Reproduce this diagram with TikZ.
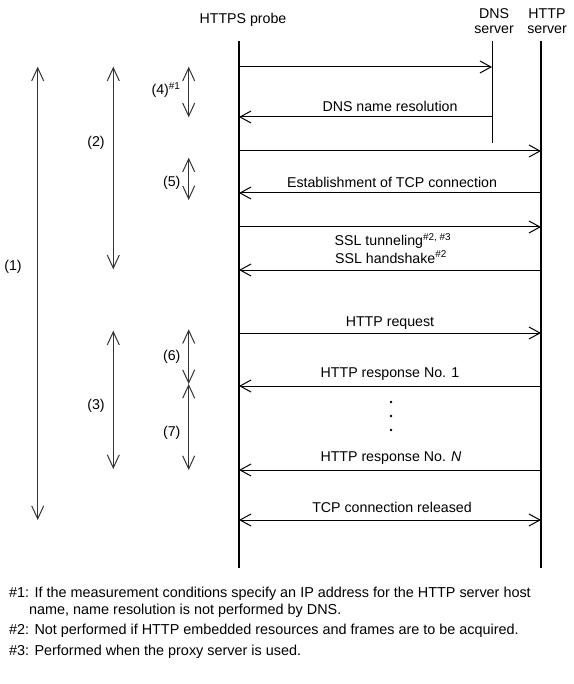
\documentclass[tikz,border=0pt]{standalone}
\usepackage{fontspec}
\setmainfont{Liberation Sans}
\usepackage{tikz}
\usetikzlibrary{arrows.meta,positioning,calc}
\tikzset{
  lifeline/.style={draw=black, line width=2pt},
  dnsline/.style={draw=black, line width=1pt},
  msgarrow/.style={-{Straight Barb[length=11pt,width=12pt]}, draw=black, line width=1pt},
  spanarrow/.style={{Straight Barb[length=13pt,width=12pt]}-{Straight Barb[length=13pt,width=12pt]},
    draw=black!80, line width=1pt},
  msglabel/.style={font=\fontsize{14.2}{15}\selectfont, inner sep=0pt, align=center},
  notetext/.style={font=\fontsize{14.4}{16}\selectfont, inner sep=0pt, anchor=west},
}

\begin{document}
\begin{tikzpicture}[x=1pt, y=-1pt]
  \useasboundingbox (0,0) rectangle (573,684);

  % ============ Lifelines ============
  \coordinate (probe)     at (239, 41);
  \coordinate (probe end) at (239,568);
  \coordinate (dns)       at (492, 41);
  \coordinate (dns end)   at (492,143);
  \coordinate (http)      at (541, 41);
  \coordinate (http end)  at (541,568);

  \node[msglabel] (probelbl) at (243,20) {HTTPS probe};
  \node[msglabel] (dnslbl)   at (494,21) {DNS\\server};
  \node[msglabel] (httplbl)  at (547,21) {HTTP\\server};

  \draw[lifeline] (probe) -- (probe end);
  \draw[dnsline]  (dns)   -- (dns end);
  \draw[lifeline] (http)  -- (http end);

  % ============ Message rows ============
  \coordinate (r1)  at (0, 67);
  \coordinate (r2)  at (0,117);
  \coordinate (r3)  at (0,151);
  \coordinate (r4)  at (0,193);
  \coordinate (r5)  at (0,227);
  \coordinate (r6)  at (0,270);
  \coordinate (r7)  at (0,333);
  \coordinate (r8)  at (0,386);
  \coordinate (r9)  at (0,470);
  \coordinate (r10) at (0,520);

  \draw[msgarrow] (probe |- r1) -- (dns |- r1);
  \draw[msgarrow] (dns |- r2)   -- (probe |- r2);
  \draw[msgarrow] (probe |- r3) -- (http |- r3);
  \draw[msgarrow] (http |- r4)  -- (probe |- r4);
  \draw[msgarrow] (probe |- r5) -- (http |- r5);
  \draw[msgarrow] (http |- r6)  -- (probe |- r6);
  \draw[msgarrow] (probe |- r7) -- (http |- r7);
  \draw[msgarrow] (http |- r8)  -- (probe |- r8);
  \draw[msgarrow] (http |- r9)  -- (probe |- r9);
  \draw[msgarrow, {Straight Barb[length=11pt,width=12pt]}-{Straight Barb[length=11pt,width=12pt]}]
    (probe |- r10) -- (http |- r10);

  % message labels
  \node[msglabel] (dnsres)  at (390,106) {DNS name resolution};
  \node[msglabel] (tcpest)  at (392,182) {Establishment of TCP connection};
  \node[msglabel] (ssltun)  at (393,241) {SSL tunneling\textsuperscript{\#2, \#3}};
  \node[msglabel] (sslhs)   at (391,257) {SSL handshake\textsuperscript{\#2}};
  \node[msglabel] (httpreq) at (390,323) {HTTP request};
  \node[msglabel] (resp1)   at (390,374) {HTTP response No. 1};
  \node[msglabel] (respN)   at (391,458) {HTTP response No. \textit{N}};
  \node[msglabel] (tcprel)  at (392,507) {TCP connection released};

  \foreach \y in {402,416,430}
    \fill (391,\y) circle (1.3);

  % ============ Measured spans ============
  \coordinate (s1top) at (37.7, 66.7);   \coordinate (s1bot) at (37.7,520);
  \coordinate (s2top) at (113.3,66.7);   \coordinate (s2bot) at (113.3,269.3);
  \coordinate (s3top) at (113.3,330.7);  \coordinate (s3bot) at (113.3,469);
  \coordinate (s4top) at (188.7,66.7);   \coordinate (s4bot) at (188.7,117.3);
  \coordinate (s5top) at (188.7,157.7);  \coordinate (s5bot) at (188.7,200);
  \coordinate (s6top) at (188.7,329.3);  \coordinate (s6bot) at (188.7,384);
  \coordinate (s7top) at (188.7,384);    \coordinate (s7bot) at (188.7,470);

  \draw[spanarrow] (s1top) -- (s1bot);
  \draw[spanarrow] (s2top) -- (s2bot);
  \draw[spanarrow] (s3top) -- (s3bot);
  \draw[spanarrow] (s4top) -- (s4bot);
  \draw[spanarrow] (s5top) -- (s5bot);
  \draw[spanarrow] (s6top) -- (s6bot);
  \draw[spanarrow] (s7top) -- (s7bot);

  \node[msglabel] (lbl1) at (13,267)   {(1)};
  \node[msglabel] (lbl2) at (96,143)   {(2)};
  \node[msglabel] (lbl3) at (96,406)   {(3)};
  \node[msglabel] (lbl4) at (166,90)   {(4)\textsuperscript{\#1}};
  \node[msglabel] (lbl5) at (171.7,183) {(5)};
  \node[msglabel] (lbl6) at (171.7,357) {(6)};
  \node[msglabel] (lbl7) at (171.7,433) {(7)};

  % ============ Notes ============
  \node[notetext] (note1)  at (9,594)  {\#1: If the measurement conditions specify an IP address for the HTTP server host};
  \node[notetext] (note1b) at (29,611) {name, name resolution is not performed by DNS.};
  \node[notetext] (note2)  at (9,631)  {\#2: Not performed if HTTP embedded resources and frames are to be acquired.};
  \node[notetext] (note3)  at (9,652)  {\#3: Performed when the proxy server is used.};

\end{tikzpicture}
\end{document}
